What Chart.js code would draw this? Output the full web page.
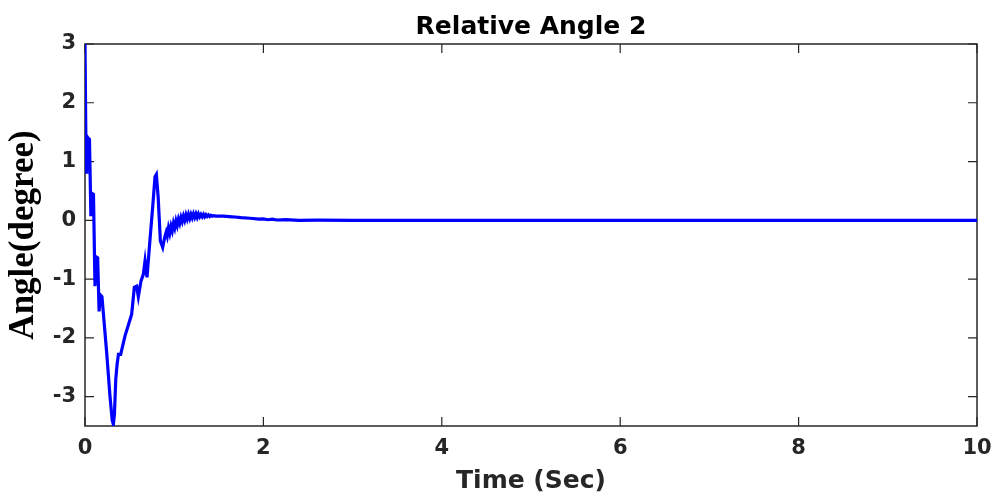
<!DOCTYPE html>
<html>
<head>
<meta charset="utf-8">
<title>Relative Angle 2</title>
<script src="https://cdn.jsdelivr.net/npm/chart.js@4.4.0/dist/chart.umd.min.js"></script>
<style>
  html, body { margin: 0; padding: 0; background: #fff; }
  #wrap { width: 997px; height: 497px; }
</style>
</head>
<body>
<div id="wrap"><canvas id="chartAngle" width="997" height="497"></canvas></div>
<script>
// Relative angle 2 response (time in seconds, angle in degrees)
const timeSec = [
  0.000, 0.013, 0.020, 0.034, 0.050, 0.066, 0.075, 0.095, 0.112, 0.122,
  0.142, 0.158, 0.172, 0.190, 0.243, 0.280, 0.305, 0.318, 0.330, 0.345,
  0.360, 0.375, 0.400, 0.448, 0.523, 0.553, 0.579, 0.598, 0.628, 0.654,
  0.673, 0.695, 0.729, 0.760, 0.785, 0.800, 0.820, 0.845, 0.871, 0.895,
  0.910, 0.922, 0.936, 0.950, 0.964, 0.978, 0.992, 1.006, 1.020, 1.034,
  1.048, 1.062, 1.076, 1.090, 1.104, 1.118, 1.132, 1.146, 1.160, 1.174,
  1.188, 1.202, 1.216, 1.230, 1.244, 1.258, 1.272, 1.286, 1.300, 1.314,
  1.328, 1.342, 1.356, 1.370, 1.384, 1.398, 1.412, 1.426, 1.440, 1.470,
  1.550, 1.650, 1.750, 1.850, 1.950, 2.000, 2.050, 2.100, 2.150, 2.250,
  2.400, 2.600, 3.000, 10.000
];
const angleDeg = [
  3.00, 0.82, 1.43, 1.40, 1.38, 0.07, 0.46, 0.44, -1.12, -0.62,
  -0.64, -1.55, -1.27, -1.30, -2.25, -2.99, -3.40, -3.47, -3.30, -2.70,
  -2.45, -2.28, -2.28, -1.97, -1.60, -1.14, -1.12, -1.30, -1.03, -0.92,
  -0.69, -0.97, -0.32, 0.25, 0.74, 0.78, 0.40, -0.35, -0.46, -0.28,
  -0.20, -0.27, -0.13, -0.22, -0.10, -0.18, -0.05, -0.13, -0.01, -0.09,
  0.02, -0.05, 0.05, -0.02, 0.07, 0.00, 0.09, 0.02, 0.10, 0.03,
  0.10, 0.04, 0.11, 0.05, 0.11, 0.05, 0.11, 0.06, 0.10, 0.06,
  0.10, 0.06, 0.095, 0.065, 0.09, 0.065, 0.085, 0.07, 0.08, 0.072,
  0.07, 0.06, 0.045, 0.035, 0.02, 0.025, 0.01, 0.02, 0.005, 0.01,
  0.0, 0.003, 0.0, 0.0
];
const xTicks = [0, 2, 4, 6, 8, 10];
const yTicks = [-3, -2, -1, 0, 1, 2, 3];

const AXIS_COLOR = '#262626';
const TICK_FONT = { family: "'DejaVu Sans', sans-serif", size: 21, weight: 'bold' };

// axes box with inward tick marks on all four sides
const boxTicks = {
  id: 'boxTicks',
  beforeDatasetsDraw(chart) {
    const { ctx, chartArea: a, scales } = chart;
    const len = 9;
    ctx.save();
    ctx.strokeStyle = AXIS_COLOR;
    ctx.lineWidth = 1.5;
    ctx.strokeRect(a.left, a.top, a.right - a.left, a.bottom - a.top);
    ctx.lineWidth = 1.2;
    ctx.beginPath();
    xTicks.forEach(v => {
      const px = scales.x.getPixelForValue(v);
      ctx.moveTo(px, a.bottom); ctx.lineTo(px, a.bottom - len);
      ctx.moveTo(px, a.top); ctx.lineTo(px, a.top + len);
    });
    yTicks.forEach(v => {
      const py = scales.y.getPixelForValue(v);
      ctx.moveTo(a.left, py); ctx.lineTo(a.left + len, py);
      ctx.moveTo(a.right, py); ctx.lineTo(a.right - len, py);
    });
    ctx.stroke();
    ctx.restore();
  }
};

new Chart(document.getElementById('chartAngle'), {
  type: 'line',
  data: {
    datasets: [{
      data: timeSec.map((t, i) => ({ x: t, y: angleDeg[i] })),
      borderColor: '#0000ff',
      borderWidth: 3.2,
      pointRadius: 0,
      tension: 0,
      fill: false
    }]
  },
  options: {
    responsive: false,
    animation: false,
    layout: { padding: { left: 0, right: 20, top: 0, bottom: 0 } },
    plugins: {
      legend: { display: false },
      tooltip: { enabled: false },
      title: {
        display: true,
        fullSize: false,
        text: 'Relative Angle 2',
        color: '#000',
        font: { family: "'DejaVu Sans', sans-serif", size: 25, weight: 'bold' },
        padding: { top: 12, bottom: 2 }
      }
    },
    scales: {
      x: {
        type: 'linear',
        min: 0,
        max: 10,
        afterBuildTicks: s => { s.ticks = xTicks.map(v => ({ value: v })); },
        afterFit: s => { s.height = 71; s.paddingLeft = 0; s.paddingRight = 0; },
        grid: { display: false, drawTicks: false },
        border: { display: false },
        ticks: { padding: 10, maxRotation: 0, color: AXIS_COLOR, font: TICK_FONT, callback: v => String(v) },
        title: {
          display: true,
          text: 'Time (Sec)',
          color: AXIS_COLOR,
          font: { family: "'DejaVu Sans', sans-serif", size: 25, weight: 'bold' },
          padding: { top: 0, bottom: 1 }
        }
      },
      y: {
        type: 'linear',
        min: -3.5,
        max: 3,
        afterBuildTicks: s => { s.ticks = yTicks.map(v => ({ value: v })); },
        afterFit: s => { s.width = 85; s.paddingTop = 0; s.paddingBottom = 0; },
        grid: { display: false, drawTicks: false },
        border: { display: false },
        ticks: { padding: 9, color: AXIS_COLOR, font: TICK_FONT, callback: v => String(v) },
        title: {
          display: true,
          text: 'Angle(degree)',
          color: '#000',
          font: { family: "'Liberation Serif', serif", size: 35, weight: 'bold' },
          padding: { top: 3, bottom: 0 }
        }
      }
    }
  },
  plugins: [boxTicks]
});
</script>
</body>
</html>
